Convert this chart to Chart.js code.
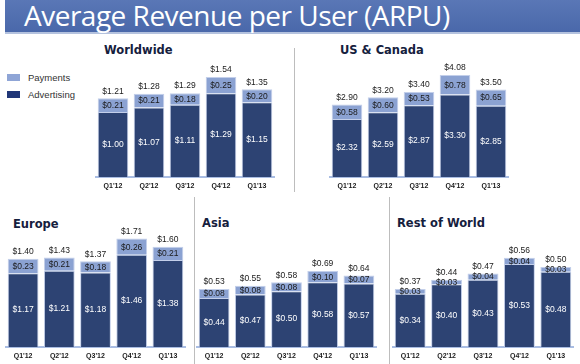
<!DOCTYPE html>
<html>
<head>
<meta charset="utf-8">
<script src="https://cdn.jsdelivr.net/npm/chart.js@4.4.0/dist/chart.umd.min.js"></script>
<style>
  body { margin: 0; background: #fff; width: 580px; height: 364px; position: relative; overflow: hidden; }
  .header { position: absolute; left: 5px; top: 0; width: 575px; height: 32px;
    background: linear-gradient(#5a77b6, #4a68aa); border-bottom: 2px solid #b4c2de; }
  .header span { position: absolute; left: 19px; top: -4px; color: #fff;
    font: 28px "Open Sans", sans-serif; letter-spacing: -0.5px; white-space: nowrap; }
  .ptitle { position: absolute; font: bold 11.5px "DejaVu Sans", sans-serif; color: #15203d; white-space: nowrap; line-height: 14px; }
  .sep { position: absolute; width: 1px; background: #bdbdbd; }
  .legend { position: absolute; font: 9.5px "Liberation Sans", Arial, sans-serif; color: #333; line-height: 12px; }
  .legend i { position: absolute; left: -21px; top: 2px; width: 13px; height: 7px; }
  canvas { position: absolute; }
</style>
</head>
<body>
<div class="header"><span>Average Revenue per User (ARPU)</span></div>

<div class="ptitle" style="left:104px;top:43px">Worldwide</div>
<div class="ptitle" style="left:340px;top:43px">US &amp; Canada</div>
<div class="ptitle" style="left:13px;top:217px">Europe</div>
<div class="ptitle" style="left:202px;top:216px">Asia</div>
<div class="ptitle" style="left:397px;top:216px">Rest of World</div>

<div class="sep" style="left:294px;top:48px;height:144px"></div>
<div class="sep" style="left:194px;top:197px;height:167px"></div>
<div class="sep" style="left:389px;top:197px;height:167px"></div>

<div class="legend" style="left:28px;top:72px"><i style="background:#8fa5d6"></i>Payments</div>
<div class="legend" style="left:28px;top:89px"><i style="background:#213778"></i>Advertising</div>

<canvas id="ww" width="180" height="144" style="left:95px;top:47px"></canvas>
<canvas id="us" width="180" height="144" style="left:329px;top:47px"></canvas>
<canvas id="eu" width="181" height="144" style="left:5px;top:217px"></canvas>
<canvas id="as" width="181" height="144" style="left:196px;top:217px"></canvas>
<canvas id="rw" width="182" height="144" style="left:392px;top:217px"></canvas>

<script>
// quarters
const quarters = ["Q1'12", "Q2'12", "Q3'12", "Q4'12", "Q1'13"];

// Worldwide
const wwAdvertising = [1.00, 1.07, 1.11, 1.29, 1.15];
const wwPayments = [0.21, 0.21, 0.18, 0.25, 0.20];
const wwTotal = [1.21, 1.28, 1.29, 1.54, 1.35];

// US & Canada
const usAdvertising = [2.32, 2.59, 2.87, 3.30, 2.85];
const usPayments = [0.58, 0.60, 0.53, 0.78, 0.65];
const usTotal = [2.90, 3.20, 3.40, 4.08, 3.50];

// Europe
const euAdvertising = [1.17, 1.21, 1.18, 1.46, 1.38];
const euPayments = [0.23, 0.21, 0.18, 0.26, 0.21];
const euTotal = [1.40, 1.43, 1.37, 1.71, 1.60];

// Asia
const asAdvertising = [0.44, 0.47, 0.50, 0.58, 0.57];
const asPayments = [0.08, 0.08, 0.08, 0.10, 0.07];
const asTotal = [0.53, 0.55, 0.58, 0.69, 0.64];

// Rest of World
const rwAdvertising = [0.34, 0.40, 0.43, 0.53, 0.48];
const rwPayments = [0.03, 0.03, 0.04, 0.04, 0.03];
const rwTotal = [0.37, 0.44, 0.47, 0.56, 0.50];

const money = v => '$' + v.toFixed(2);

// draws the values in and above the bars
const valueLabels = {
  id: 'valueLabels',
  afterDatasetsDraw(chart, args, opts) {
    const c = chart.ctx;
    c.save();
    c.textAlign = 'center';
    c.textBaseline = 'middle';
    c.font = '8.5px "Liberation Sans", Arial, sans-serif';
    const adv = chart.getDatasetMeta(0).data;
    const pay = chart.getDatasetMeta(1).data;
    adv.forEach((bar, i) => {
      c.fillStyle = '#ffffff';
      c.fillText(money(chart.data.datasets[0].data[i]), bar.x, (bar.y + bar.base) / 2);
    });
    pay.forEach((bar, i) => {
      c.fillStyle = '#1a1a1a';
      c.fillText(money(chart.data.datasets[1].data[i]), bar.x, (bar.y + bar.base) / 2 + 0.5);
      c.fillText(money(opts.totals[i]), bar.x, bar.y - 7);
    });
    c.restore();
  }
};

function panel(id, advertising, payments, totals, yMax) {
  new Chart(document.getElementById(id), {
    type: 'bar',
    data: {
      labels: quarters,
      datasets: [
        { label: 'Advertising', data: advertising, backgroundColor: '#2d4373',
          borderColor: '#c3cfea', borderWidth: 1, barPercentage: 0.85, categoryPercentage: 1 },
        { label: 'Payments', data: payments, backgroundColor: '#8ba2d2',
          borderColor: '#c3cfea', borderWidth: 1, barPercentage: 0.85, categoryPercentage: 1 }
      ]
    },
    options: {
      responsive: false,
      animation: false,
      layout: { padding: 0 },
      plugins: {
        legend: { display: false },
        tooltip: { enabled: false },
        valueLabels: { totals: totals }
      },
      scales: {
        x: {
          stacked: true,
          grid: { display: false, drawTicks: false },
          border: { display: true, color: '#a9bde3', width: 2 },
          ticks: { color: '#1a1a1a', padding: 5, font: { family: '"Liberation Sans", Arial, sans-serif', size: 7, weight: 'bold' } },
          afterFit(axis) { axis.height = 14; }
        },
        y: { stacked: true, display: false, min: 0, max: yMax }
      }
    },
    plugins: [valueLabels]
  });
}

panel('ww', wwAdvertising, wwPayments, wwTotal, 2.0);
panel('us', usAdvertising, usPayments, usTotal, 5.2);
panel('eu', euAdvertising, euPayments, euTotal, 2.06);
panel('as', asAdvertising, asPayments, asTotal, 1.165);
panel('rw', rwAdvertising, rwPayments, rwTotal, 0.83);
</script>
</body>
</html>
